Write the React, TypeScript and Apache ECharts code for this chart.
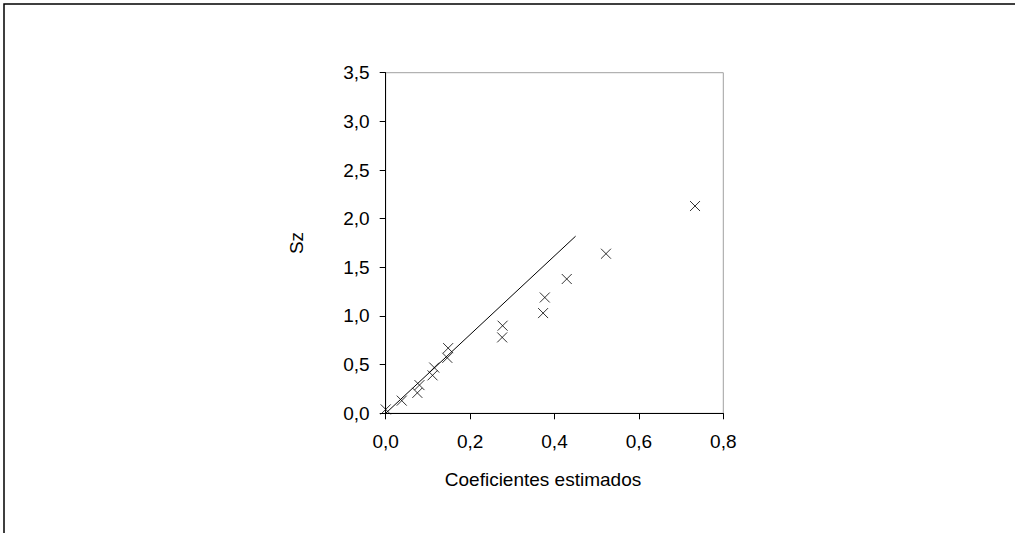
import React, { useEffect, useRef } from "react";
import * as echarts from "echarts";

const pointsX = [0.0, 0.038, 0.075, 0.08, 0.111, 0.115, 0.146, 0.148, 0.276, 0.277, 0.373, 0.377, 0.429, 0.522, 0.733];
const pointsY = [0.04, 0.13, 0.21, 0.29, 0.39, 0.47, 0.57, 0.67, 0.78, 0.9, 1.03, 1.19, 1.38, 1.64, 2.13];
const lineX = [0.0, 0.45];
const lineY = [0.0, 1.82];
const xTitle = "Coeficientes estimados";
const yTitle = "Sz";

const fmt = (v: number) => v.toFixed(1).replace(".", ",");

export default function App() {
  const ref = useRef<HTMLDivElement>(null);
  useEffect(() => {
    if (!ref.current) return;
    const chart = echarts.init(ref.current, undefined, { renderer: "svg" });
    const font = "Liberation Sans, Arial, sans-serif";
    chart.setOption({
      animation: false,
      backgroundColor: "#fff",
      grid: {
        left: 385.7,
        top: 72.7,
        right: 291.7,
        bottom: 119.7,
        show: true,
        borderColor: "#a0a0a0",
        borderWidth: 1,
        backgroundColor: "transparent",
      },
      xAxis: {
        type: "value",
        min: 0,
        max: 0.8,
        interval: 0.2,
        axisLine: { show: true, onZero: false, lineStyle: { color: "#000", width: 1 } },
        axisTick: { show: true, inside: false, length: 6, lineStyle: { color: "#000" } },
        axisLabel: { formatter: fmt, color: "#000", fontSize: 19, fontFamily: font, margin: 19 },
        splitLine: { show: false },
      },
      yAxis: {
        type: "value",
        min: 0,
        max: 3.5,
        interval: 0.5,
        axisLine: { show: true, onZero: false, lineStyle: { color: "#000", width: 1 } },
        axisTick: { show: true, inside: false, length: 6, lineStyle: { color: "#000" } },
        axisLabel: { formatter: fmt, color: "#000", fontSize: 19, fontFamily: font, margin: 16 },
        splitLine: { show: false },
      },
      graphic: [
        {
          type: "polyline",
          shape: { points: [[4, 540], [4, 4], [1020, 4]] },
          style: { fill: "none", stroke: "#000", lineWidth: 1.5 },
          silent: true,
        },
        {
          type: "text",
          x: 543,
          y: 479,
          style: {
            text: xTitle,
            fontSize: 19,
            fontFamily: font,
            fill: "#000",
            align: "center",
            verticalAlign: "middle",
          },
        },
        {
          type: "text",
          x: 296,
          y: 243,
          rotation: Math.PI / 2,
          style: {
            text: yTitle,
            fontSize: 19,
            fontFamily: font,
            fill: "#000",
            align: "center",
            verticalAlign: "middle",
          },
        },
      ],
      series: [
        {
          type: "line",
          data: lineX.map((x, i) => [x, lineY[i]]),
          showSymbol: false,
          symbol: "none",
          lineStyle: { color: "#000", width: 1 },
          z: 2,
        },
        {
          type: "scatter",
          data: pointsX.map((x, i) => [x, pointsY[i]]),
          symbol: "path://M0,0L10,10M10,0L0,10",
          symbolSize: 10,
          itemStyle: { color: "none", borderColor: "#000", borderWidth: 1 },
          z: 3,
        },
      ],
    });
    return () => chart.dispose();
  }, []);
  return (
    <div
      ref={ref}
      style={{ position: "fixed", left: 0, top: 0, width: 1015, height: 533 }}
    />
  );
}
